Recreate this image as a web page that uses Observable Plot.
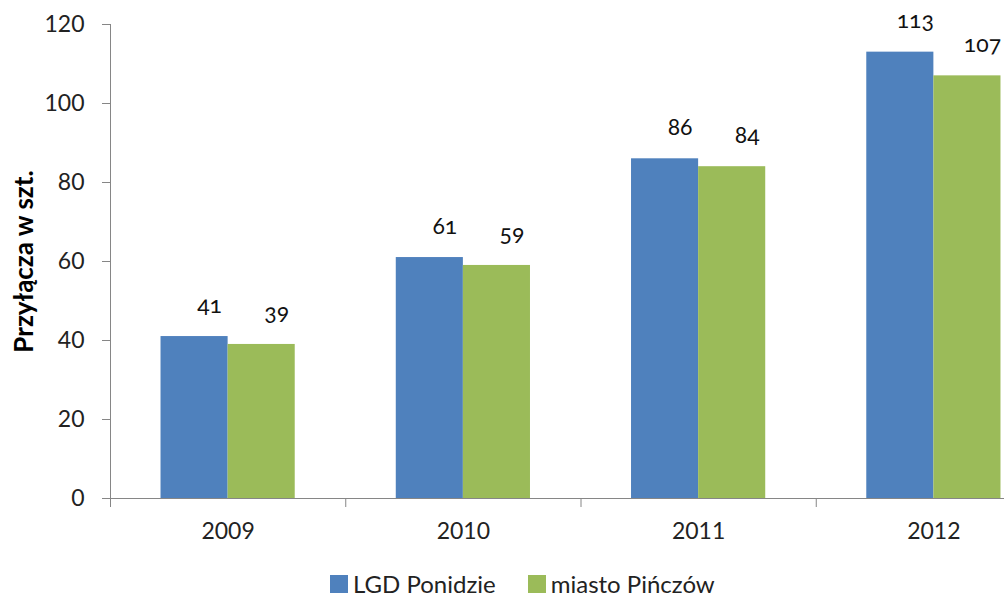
<!DOCTYPE html>
<html>
<head>
<meta charset="utf-8">
<script src="https://cdn.jsdelivr.net/npm/d3@7"></script>
<script src="https://cdn.jsdelivr.net/npm/@observablehq/plot@0.6"></script>
<style>
  html, body { margin: 0; padding: 0; overflow: hidden; background: #fff; width: 1004px; height: 598px; }
  #wrap { width: 1004px; height: 598px; overflow: hidden; position: relative; }
  #chart svg { max-width: none !important; }
  #legend { position: absolute; left: 330px; top: 571px; font-family: Lato, sans-serif; font-size: 24px; line-height: 26px; color: #222; white-space: nowrap; display: flex; align-items: center; }
  #legend .sw { display: inline-block; width: 18px; height: 18px; margin-right: 5px; }
  #legend .item { display: inline-flex; align-items: center; margin-right: 32px; }
</style>
</head>
<body>
<div id="wrap"><div id="chart"></div><div id="legend"></div></div>
<script>
const years = ["2009", "2010", "2011", "2012"];
const seriesNames = ["LGD Ponidzie", "miasto Pińczów"];
const lgdValues = [41, 61, 86, 113];
const pinczowValues = [39, 59, 84, 107];
const yTicks = [0, 20, 40, 60, 80, 100, 120];
const yTitle = "Przyłącza w szt.";
const colors = ["#4F81BD", "#9BBB59"];

const lgd = years.map((y, i) => ({year: y, value: lgdValues[i], series: seriesNames[0]}));
const pin = years.map((y, i) => ({year: y, value: pinczowValues[i], series: seriesNames[1]}));

const W = 1051, ML = 110, MR = 0;
const bw = (W - ML - MR) / years.length;
const barW = 67.1;
const outer = (bw - 2 * barW) / 2;
const axisGray = "#868686";

const chart = Plot.plot({
  width: W,
  height: 572,
  marginLeft: ML,
  marginRight: MR,
  marginTop: 24,
  marginBottom: 74,
  style: {fontFamily: "Lato, sans-serif", fontSize: "23px", color: "#222", background: "#fff", maxWidth: "none"},
  x: {domain: years, padding: 0, round: false, axis: null},
  y: {domain: [0, 120], axis: null},
  marks: [
    Plot.barY(lgd, {x: "year", y: "value", fill: colors[0], insetLeft: outer, insetRight: bw - outer - barW}),
    Plot.barY(pin, {x: "year", y: "value", fill: colors[1], insetLeft: outer + barW, insetRight: outer}),
    Plot.text(lgd, {x: "year", y: "value", text: d => String(d.value), dx: -barW / 2 + 15, dy: -24, lineAnchor: "bottom", fontFamily: "Lato, sans-serif", fontSize: 23, fontVariant: "oldstyle-nums", fill: "#111"}),
    Plot.text(pin, {x: "year", y: "value", text: d => String(d.value), dx: barW / 2 + 15, dy: -24, lineAnchor: "bottom", fontFamily: "Lato, sans-serif", fontSize: 23, fontVariant: "oldstyle-nums", fill: "#111"}),
    Plot.frame({anchor: "left", stroke: axisGray}),
    Plot.ruleY([0], {stroke: axisGray}),
    Plot.ruleX(years, {x: d => d, dx: -bw / 2, y1: 0, y2: 0, insetBottom: -9, stroke: axisGray}),
    Plot.axisY(yTicks, {tickSize: 8, tickPadding: 18, stroke: axisGray, fill: "#222", label: null}),
    Plot.axisX(years, {tickSize: 0, tickPadding: 24, fill: "#222", label: null}),
    Plot.text([yTitle], {frameAnchor: "left", rotate: -90, textAnchor: "middle", dx: -86, fontWeight: "bold", fontSize: 26, fill: "#000"})
  ]
});
document.getElementById("chart").appendChild(chart);

const legend = document.getElementById("legend");
seriesNames.forEach((name, i) => {
  const item = document.createElement("span");
  item.className = "item";
  const sw = document.createElement("span");
  sw.className = "sw";
  sw.style.background = colors[i];
  item.appendChild(sw);
  item.appendChild(document.createTextNode(name));
  legend.appendChild(item);
});
</script>
</body>
</html>
